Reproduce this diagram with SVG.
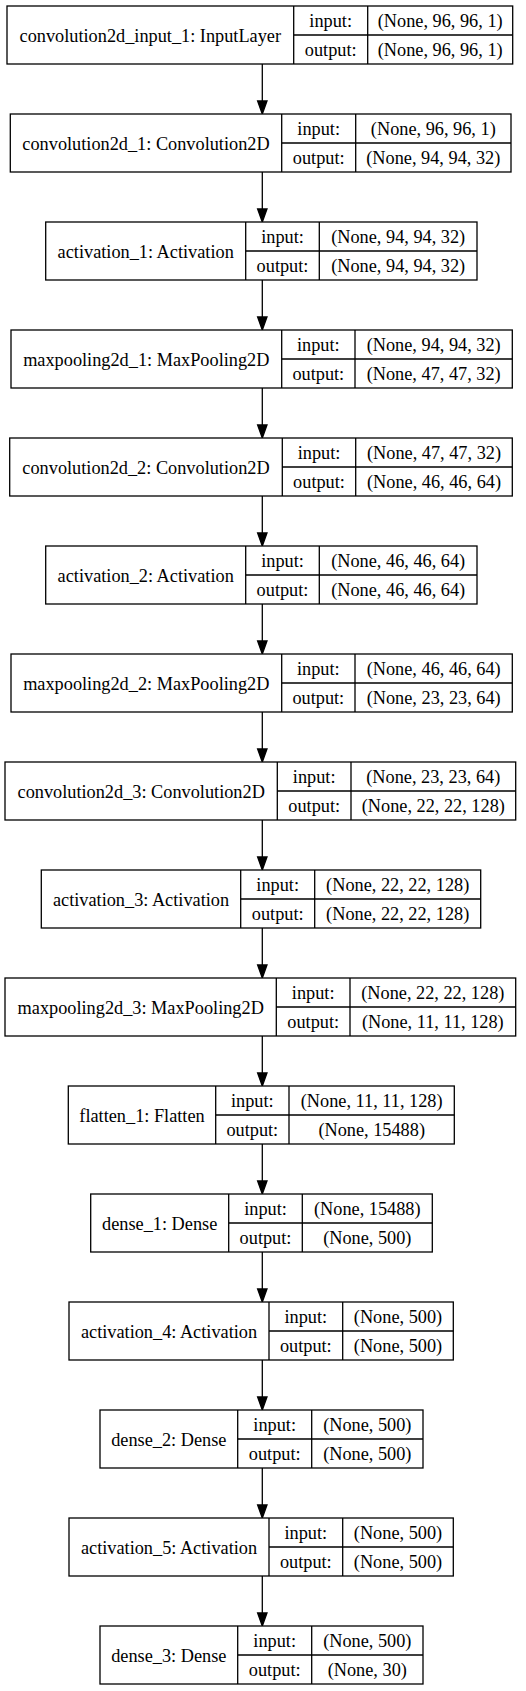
<svg xmlns="http://www.w3.org/2000/svg" width="526" height="1691" viewBox="0 0 526 1691">
<style>
.box{fill:#fff;stroke:#000;stroke-width:1.3}
.ln{stroke:#000;stroke-width:1.3;fill:none}
text{font-family:"Liberation Serif","Times New Roman",serif;font-size:18.3px;fill:#000;text-anchor:middle}
.edge{stroke:#000;stroke-width:1.3;fill:none}
.head{fill:#000;stroke:#000;stroke-width:1.3}
</style>
<rect width="526" height="1691" fill="#fff"/>
<g id="connectors">
<line class="edge" x1="262.3" y1="64" x2="262.3" y2="101"/><polygon class="head" points="257.6,101 267,101 262.3,114"/>
<line class="edge" x1="262.3" y1="172" x2="262.3" y2="209"/><polygon class="head" points="257.6,209 267,209 262.3,222"/>
<line class="edge" x1="262.3" y1="280" x2="262.3" y2="317"/><polygon class="head" points="257.6,317 267,317 262.3,330"/>
<line class="edge" x1="262.3" y1="388" x2="262.3" y2="425"/><polygon class="head" points="257.6,425 267,425 262.3,438"/>
<line class="edge" x1="262.3" y1="496" x2="262.3" y2="533"/><polygon class="head" points="257.6,533 267,533 262.3,546"/>
<line class="edge" x1="262.3" y1="604" x2="262.3" y2="641"/><polygon class="head" points="257.6,641 267,641 262.3,654"/>
<line class="edge" x1="262.3" y1="712" x2="262.3" y2="749"/><polygon class="head" points="257.6,749 267,749 262.3,762"/>
<line class="edge" x1="262.3" y1="820" x2="262.3" y2="857"/><polygon class="head" points="257.6,857 267,857 262.3,870"/>
<line class="edge" x1="262.3" y1="928" x2="262.3" y2="965"/><polygon class="head" points="257.6,965 267,965 262.3,978"/>
<line class="edge" x1="262.3" y1="1036" x2="262.3" y2="1073"/><polygon class="head" points="257.6,1073 267,1073 262.3,1086"/>
<line class="edge" x1="262.3" y1="1144" x2="262.3" y2="1181"/><polygon class="head" points="257.6,1181 267,1181 262.3,1194"/>
<line class="edge" x1="262.3" y1="1252" x2="262.3" y2="1289"/><polygon class="head" points="257.6,1289 267,1289 262.3,1302"/>
<line class="edge" x1="262.3" y1="1360" x2="262.3" y2="1397"/><polygon class="head" points="257.6,1397 267,1397 262.3,1410"/>
<line class="edge" x1="262.3" y1="1468" x2="262.3" y2="1505"/><polygon class="head" points="257.6,1505 267,1505 262.3,1518"/>
<line class="edge" x1="262.3" y1="1576" x2="262.3" y2="1613"/><polygon class="head" points="257.6,1613 267,1613 262.3,1626"/>
</g>
<g id="n0" transform="translate(0,6)">
<rect class="box" x="7" y="0" width="505.7" height="58"/>
<path class="ln" d="M293.7,0V58M367.7,0V58M293.7,29H512.7"/>
<text x="150.3" y="35.5">convolution2d_input_1: InputLayer</text>
<text x="330.7" y="21">input:</text><text x="330.7" y="50">output:</text>
<text x="440.2" y="21">(None, 96, 96, 1)</text><text x="440.2" y="50">(None, 96, 96, 1)</text>
</g>
<g id="n1" transform="translate(0,114)">
<rect class="box" x="10.3" y="0" width="500.7" height="58"/>
<path class="ln" d="M281.7,0V58M355.7,0V58M281.7,29H511"/>
<text x="146" y="35.5">convolution2d_1: Convolution2D</text>
<text x="318.7" y="21">input:</text><text x="318.7" y="50">output:</text>
<text x="433.3" y="21">(None, 96, 96, 1)</text><text x="433.3" y="50">(None, 94, 94, 32)</text>
</g>
<g id="n2" transform="translate(0,222)">
<rect class="box" x="45.7" y="0" width="431.3" height="58"/>
<path class="ln" d="M245.7,0V58M319.3,0V58M245.7,29H477"/>
<text x="145.7" y="35.5">activation_1: Activation</text>
<text x="282.5" y="21">input:</text><text x="282.5" y="50">output:</text>
<text x="398.2" y="21">(None, 94, 94, 32)</text><text x="398.2" y="50">(None, 94, 94, 32)</text>
</g>
<g id="n3" transform="translate(0,330)">
<rect class="box" x="11" y="0" width="501.3" height="58"/>
<path class="ln" d="M281.7,0V58M355,0V58M281.7,29H512.3"/>
<text x="146.3" y="35.5">maxpooling2d_1: MaxPooling2D</text>
<text x="318.3" y="21">input:</text><text x="318.3" y="50">output:</text>
<text x="433.7" y="21">(None, 94, 94, 32)</text><text x="433.7" y="50">(None, 47, 47, 32)</text>
</g>
<g id="n4" transform="translate(0,438)">
<rect class="box" x="9.7" y="0" width="502.6" height="58"/>
<path class="ln" d="M282.3,0V58M355.7,0V58M282.3,29H512.3"/>
<text x="146" y="35.5">convolution2d_2: Convolution2D</text>
<text x="319" y="21">input:</text><text x="319" y="50">output:</text>
<text x="434" y="21">(None, 47, 47, 32)</text><text x="434" y="50">(None, 46, 46, 64)</text>
</g>
<g id="n5" transform="translate(0,546)">
<rect class="box" x="45.7" y="0" width="431.3" height="58"/>
<path class="ln" d="M245.7,0V58M319.3,0V58M245.7,29H477"/>
<text x="145.7" y="35.5">activation_2: Activation</text>
<text x="282.5" y="21">input:</text><text x="282.5" y="50">output:</text>
<text x="398.2" y="21">(None, 46, 46, 64)</text><text x="398.2" y="50">(None, 46, 46, 64)</text>
</g>
<g id="n6" transform="translate(0,654)">
<rect class="box" x="11" y="0" width="501.3" height="58"/>
<path class="ln" d="M281.7,0V58M355,0V58M281.7,29H512.3"/>
<text x="146.3" y="35.5">maxpooling2d_2: MaxPooling2D</text>
<text x="318.3" y="21">input:</text><text x="318.3" y="50">output:</text>
<text x="433.7" y="21">(None, 46, 46, 64)</text><text x="433.7" y="50">(None, 23, 23, 64)</text>
</g>
<g id="n7" transform="translate(0,762)">
<rect class="box" x="5" y="0" width="510.7" height="58"/>
<path class="ln" d="M277.3,0V58M351,0V58M277.3,29H515.7"/>
<text x="141.2" y="35.5">convolution2d_3: Convolution2D</text>
<text x="314.2" y="21">input:</text><text x="314.2" y="50">output:</text>
<text x="433.3" y="21">(None, 23, 23, 64)</text><text x="433.3" y="50">(None, 22, 22, 128)</text>
</g>
<g id="n8" transform="translate(0,870)">
<rect class="box" x="41.3" y="0" width="439.4" height="58"/>
<path class="ln" d="M240.7,0V58M314.7,0V58M240.7,29H480.7"/>
<text x="141" y="35.5">activation_3: Activation</text>
<text x="277.7" y="21">input:</text><text x="277.7" y="50">output:</text>
<text x="397.7" y="21">(None, 22, 22, 128)</text><text x="397.7" y="50">(None, 22, 22, 128)</text>
</g>
<g id="n9" transform="translate(0,978)">
<rect class="box" x="5" y="0" width="510.7" height="58"/>
<path class="ln" d="M276.3,0V58M350,0V58M276.3,29H515.7"/>
<text x="140.7" y="35.5">maxpooling2d_3: MaxPooling2D</text>
<text x="313.2" y="21">input:</text><text x="313.2" y="50">output:</text>
<text x="432.8" y="21">(None, 22, 22, 128)</text><text x="432.8" y="50">(None, 11, 11, 128)</text>
</g>
<g id="n10" transform="translate(0,1086)">
<rect class="box" x="68.3" y="0" width="386" height="58"/>
<path class="ln" d="M215.7,0V58M289,0V58M215.7,29H454.3"/>
<text x="142" y="35.5">flatten_1: Flatten</text>
<text x="252.3" y="21">input:</text><text x="252.3" y="50">output:</text>
<text x="371.7" y="21">(None, 11, 11, 128)</text><text x="371.7" y="50">(None, 15488)</text>
</g>
<g id="n11" transform="translate(0,1194)">
<rect class="box" x="90.7" y="0" width="341.6" height="58"/>
<path class="ln" d="M228.7,0V58M302.3,0V58M228.7,29H432.3"/>
<text x="159.7" y="35.5">dense_1: Dense</text>
<text x="265.5" y="21">input:</text><text x="265.5" y="50">output:</text>
<text x="367.3" y="21">(None, 15488)</text><text x="367.3" y="50">(None, 500)</text>
</g>
<g id="n12" transform="translate(0,1302)">
<rect class="box" x="69" y="0" width="384.3" height="58"/>
<path class="ln" d="M269,0V58M342.7,0V58M269,29H453.3"/>
<text x="169" y="35.5">activation_4: Activation</text>
<text x="305.8" y="21">input:</text><text x="305.8" y="50">output:</text>
<text x="398" y="21">(None, 500)</text><text x="398" y="50">(None, 500)</text>
</g>
<g id="n13" transform="translate(0,1410)">
<rect class="box" x="100" y="0" width="323" height="58"/>
<path class="ln" d="M237.7,0V58M311.7,0V58M237.7,29H423"/>
<text x="168.8" y="35.5">dense_2: Dense</text>
<text x="274.7" y="21">input:</text><text x="274.7" y="50">output:</text>
<text x="367.3" y="21">(None, 500)</text><text x="367.3" y="50">(None, 500)</text>
</g>
<g id="n14" transform="translate(0,1518)">
<rect class="box" x="69" y="0" width="384.3" height="58"/>
<path class="ln" d="M269,0V58M342.7,0V58M269,29H453.3"/>
<text x="169" y="35.5">activation_5: Activation</text>
<text x="305.8" y="21">input:</text><text x="305.8" y="50">output:</text>
<text x="398" y="21">(None, 500)</text><text x="398" y="50">(None, 500)</text>
</g>
<g id="n15" transform="translate(0,1626)">
<rect class="box" x="100" y="0" width="323" height="58"/>
<path class="ln" d="M237.7,0V58M311.7,0V58M237.7,29H423"/>
<text x="168.8" y="35.5">dense_3: Dense</text>
<text x="274.7" y="21">input:</text><text x="274.7" y="50">output:</text>
<text x="367.3" y="21">(None, 500)</text><text x="367.3" y="50">(None, 30)</text>
</g>
</svg>
